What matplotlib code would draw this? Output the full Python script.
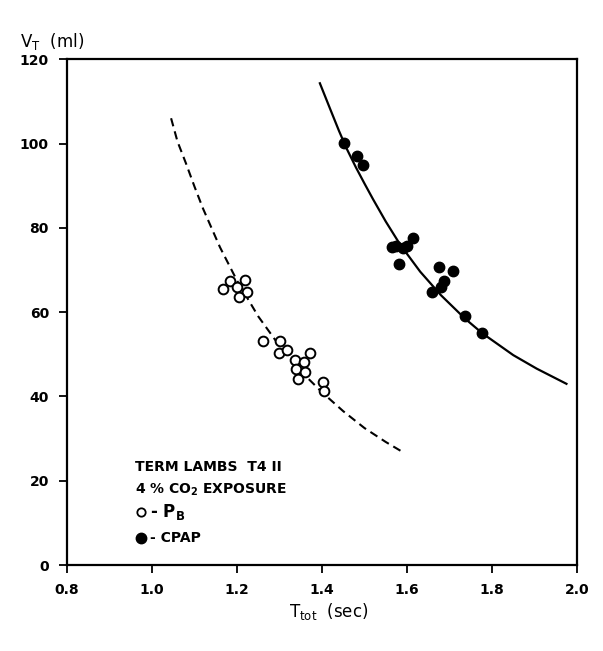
import numpy as np
import matplotlib.pyplot as plt

# open circles: PB
pb_t = [1.168, 1.184, 1.201, 1.220, 1.223, 1.205, 1.262, 1.301, 1.300, 1.317,
        1.336, 1.358, 1.372, 1.340, 1.360, 1.343, 1.402, 1.405]
pb_v = [65.6, 67.4, 66.0, 67.6, 64.8, 63.6, 53.2, 53.1, 50.4, 51.0,
        48.6, 48.2, 50.2, 46.4, 45.8, 44.1, 43.5, 41.3]

# filled dots: CPAP
cpap_t = [1.452, 1.482, 1.496, 1.565, 1.575, 1.580, 1.590, 1.600, 1.615,
          1.676, 1.708, 1.687, 1.679, 1.658, 1.736, 1.777]
cpap_v = [100.2, 97.0, 94.9, 75.5, 75.8, 71.5, 75.3, 75.8, 77.5,
          70.6, 69.8, 67.4, 66.0, 64.8, 59.1, 55.1]

# fitted curves
pb_curve_t = [1.045, 1.06, 1.08, 1.10, 1.12, 1.16, 1.20, 1.25, 1.30, 1.35, 1.40, 1.45, 1.50, 1.55, 1.59]
pb_curve_v = [106, 100.5, 95.3, 89.8, 84.6, 75.4, 67.5, 59, 52, 46, 41, 36.5, 32.5, 29.2, 26.8]
cpap_curve_t = [1.395, 1.42, 1.44, 1.458, 1.48, 1.50, 1.52, 1.55, 1.584, 1.631, 1.68,
                1.736, 1.777, 1.85, 1.905, 1.975]
cpap_curve_v = [114.3, 108, 103, 98.8, 94.3, 90.5, 86.8, 81.5, 76, 69.6, 64,
                58.5, 55, 49.8, 46.6, 43]

xticks = [0.8, 1.0, 1.2, 1.4, 1.6, 1.8, 2.0]
yticks = [0, 20, 40, 60, 80, 100, 120]

plt.rcParams['font.family'] = ['DejaVu Sans']
plt.rcParams['font.weight'] = 'bold'
plt.rcParams['mathtext.default'] = 'regular'
fig = plt.figure(figsize=(6.03, 6.51), dpi=100)
ax = fig.add_axes([0.111, 0.132, 0.846, 0.777])

ax.plot(pb_curve_t, pb_curve_v, color='black', lw=1.5, ls=(0, (4, 2.5)))
ax.plot(cpap_curve_t, cpap_curve_v, color='black', lw=1.6)
ax.plot(pb_t, pb_v, 'o', ms=7, mfc='white', mec='black', mew=1.4)
ax.plot(cpap_t, cpap_v, 'o', ms=7.5, color='black')

ax.set_xlim(0.8, 2.0)
ax.set_ylim(0, 120)
ax.set_xticks(xticks)
ax.set_xticklabels(['%.1f' % t for t in xticks])
ax.set_yticks(yticks)
ax.tick_params(direction='out', length=6, width=1.3, labelsize=10, pad=7)
for s in ax.spines.values():
    s.set_linewidth(1.6)

# legend block
lx = 0.96
fs = 10
ax.text(lx, 23.2, 'TERM LAMBS  T4 II', fontsize=fs, va='center')
ax.text(lx, 17.8, '4 % CO$_2$ EXPOSURE', fontsize=fs, va='center')
ax.plot([lx + 0.015], [12.6], 'o', ms=6, mfc='white', mec='black', mew=1.3)
ax.text(lx + 0.035, 12.6, '- P$_B$', fontsize=12, va='center')
ax.plot([lx + 0.015], [6.4], 'o', ms=7.5, color='black')
ax.text(lx + 0.035, 6.4, '- CPAP', fontsize=fs, va='center')

fig.text(0.033, 0.928, 'V$_T$  (ml)', fontsize=12, fontweight='normal')
fig.text(0.545, 0.052, 'T$_{tot}$  (sec)', fontsize=12, ha='center', fontweight='normal')

fig.savefig('out.png', dpi=100)
